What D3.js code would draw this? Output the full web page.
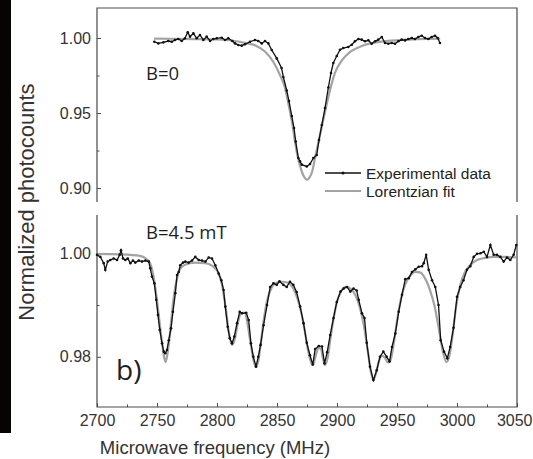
<!DOCTYPE html>
<html>
<head>
<meta charset="utf-8">
<script src="https://cdn.jsdelivr.net/npm/d3@7"></script>
<style>
  html, body { margin: 0; padding: 0; background: #fff; }
  svg { display: block; }
</style>
</head>
<body>
<svg id="chart" width="533" height="459"></svg>
<script>
// ODMR spectra: zero field (top) and B = 4.5 mT (bottom)

const xTicks = [2700, 2750, 2800, 2850, 2900, 2950, 3000, 3050];
const xMinorTicks = [2725, 2775, 2825, 2875, 2925, 2975, 3025];
const topTicks = [0.90, 0.95, 1.00];
const topMinorTicks = [0.925, 0.975];
const bottomTicks = [0.98, 1.00];
const bottomMinorTicks = [0.99];

// B = 0 : measured photocounts
const b0Freq = [
  2747.8, 2751.1, 2755.3, 2759.4, 2762.3, 2765.0, 2767.8, 2770.6, 2773.3, 2775.6,
  2777.5, 2780.3, 2783.1, 2785.8, 2788.6, 2791.4, 2794.2, 2796.9, 2799.8, 2803.9,
  2806.7, 2809.4, 2812.8, 2815.0, 2817.8, 2820.6, 2823.3, 2827.5, 2831.7, 2834.4,
  2837.3, 2840.0, 2842.8, 2845.6, 2849.8, 2853.8, 2855.3, 2858.1, 2860.0, 2862.3,
  2864.2, 2865.6, 2867.8, 2869.2, 2870.6, 2874.8, 2877.5, 2880.3, 2883.1, 2885.0,
  2887.3, 2890.0, 2892.8, 2895.0, 2896.9, 2899.8, 2902.5, 2905.3, 2909.4, 2912.3,
  2915.0, 2917.8, 2920.6, 2923.3, 2926.1, 2928.9, 2931.7, 2934.4, 2937.3, 2940.0,
  2942.8, 2945.6, 2948.3, 2951.1, 2953.9, 2956.7, 2959.4, 2962.3, 2965.0, 2967.8,
  2970.6, 2973.3, 2976.1, 2978.9, 2981.7, 2983.9, 2985.8
];
const b0Counts = [
  0.9975, 0.9964, 0.9971, 0.9980, 0.9975, 0.9987, 0.9993, 0.9980, 0.9998, 1.0038,
  1.0009, 1.0031, 0.9998, 1.0020, 0.9987, 1.0009, 0.9980, 0.9993, 0.9998, 1.0002,
  0.9987, 0.9998, 0.9980, 0.9964, 0.9953, 0.9949, 0.9958, 0.9975, 0.9987, 0.9980,
  0.9964, 0.9980, 0.9964, 0.9920, 0.9864, 0.9800, 0.9740, 0.9650, 0.9580, 0.9480,
  0.9400, 0.9310, 0.9200, 0.9178, 0.9156, 0.9144, 0.9160, 0.9200, 0.9220, 0.9320,
  0.9420, 0.9533, 0.9670, 0.9767, 0.9833, 0.9880, 0.9922, 0.9933, 0.9940, 0.9955,
  0.9978, 0.9993, 0.9989, 0.9978, 0.9985, 0.9962, 0.9978, 0.9989, 1.0007, 0.9967,
  0.9962, 0.9967, 0.9962, 0.9978, 0.9989, 0.9984, 0.9993, 1.0000, 0.9993, 1.0007,
  1.0015, 1.0000, 0.9993, 1.0007, 1.0015, 1.0000, 0.9967
];

// B = 0 : Lorentzian fit
const b0FitFreq = [
  2747.5, 2760, 2780, 2800, 2815, 2823, 2832, 2840, 2847, 2852.5,
  2856.7, 2859.2, 2862.5, 2865, 2867.5, 2870.8, 2873, 2875, 2877, 2879.2,
  2881.7, 2885.8, 2890, 2894.2, 2898.3, 2904.2, 2910.8, 2920.8, 2934.2, 2954.2,
  2986
];
const b0Fit = [
  0.9996, 0.9995, 0.9993, 0.9990, 0.9980, 0.9968, 0.9950, 0.9910, 0.9840, 0.9753,
  0.9667, 0.9573, 0.9440, 0.9307, 0.9200, 0.9107, 0.9070, 0.9055, 0.9070, 0.9107,
  0.9200, 0.9353, 0.9507, 0.9653, 0.9767, 0.9853, 0.9907, 0.9947, 0.9973, 0.9987,
  0.9996
];

// B = 4.5 mT : measured photocounts
const b45Freq = [
  2700.0, 2702.8, 2705.6, 2706.9, 2708.9, 2711.1, 2713.9, 2716.7, 2718.9, 2720.0,
  2721.7, 2723.6, 2725.6, 2727.8, 2730.0, 2731.9, 2734.8, 2737.5, 2740.3, 2743.1,
  2744.4, 2745.8, 2747.8, 2749.4, 2750.8, 2752.3, 2754.2, 2755.6, 2756.9, 2758.3,
  2759.8, 2761.7, 2763.3, 2765.3, 2766.7, 2768.1, 2769.4, 2771.7, 2773.6, 2776.4,
  2779.2, 2781.9, 2784.8, 2787.5, 2790.3, 2793.1, 2795.8, 2798.6, 2801.4, 2803.6,
  2805.5, 2806.9, 2808.9, 2810.6, 2812.5, 2814.4, 2816.7, 2818.9, 2820.8, 2824.4,
  2826.4, 2828.3, 2830.3, 2832.5, 2834.4, 2836.3, 2838.8, 2841.7, 2844.3, 2847.0,
  2849.8, 2852.1, 2855.3, 2858.1, 2860.8, 2863.6, 2866.4, 2869.3, 2872.1, 2874.8,
  2877.5, 2879.8, 2881.8, 2884.8, 2887.5, 2889.6, 2891.8, 2894.3, 2897.1, 2899.8,
  2902.9, 2905.6, 2908.3, 2911.1, 2913.8, 2916.4, 2918.1, 2920.8, 2922.9, 2924.8,
  2927.5, 2930.3, 2933.1, 2935.8, 2938.6, 2941.4, 2943.8, 2945.8, 2948.6, 2951.4,
  2954.2, 2956.9, 2959.8, 2962.5, 2965.3, 2968.1, 2970.8, 2972.3, 2974.3, 2976.4,
  2979.2, 2981.9, 2984.6, 2986.4, 2989.2, 2991.9, 2994.3, 2997.1, 3000.0, 3002.7,
  3005.4, 3008.3, 3011.1, 3013.9, 3016.7, 3019.6, 3022.3, 3025.0, 3027.8, 3030.6,
  3033.3, 3036.1, 3038.9, 3041.7, 3044.4, 3047.2, 3049.4
];
const b45Counts = [
  0.9997, 0.9993, 0.9981, 0.9968, 0.9984, 0.9987, 0.9990, 0.9987, 0.9997, 1.0006,
  0.9990, 0.9987, 0.9990, 0.9981, 0.9986, 0.9982, 0.9986, 0.9984, 0.9986, 0.9984,
  0.9971, 0.9955, 0.9942, 0.9910, 0.9881, 0.9852, 0.9826, 0.9810, 0.9807, 0.9813,
  0.9832, 0.9855, 0.9887, 0.9923, 0.9958, 0.9964, 0.9977, 0.9982, 0.9984, 0.9982,
  0.9986, 0.9993, 0.9987, 0.9986, 0.9984, 0.9992, 0.9990, 0.9977, 0.9961, 0.9948,
  0.9929, 0.9897, 0.9858, 0.9836, 0.9826, 0.9839, 0.9865, 0.9887, 0.9884, 0.9885,
  0.9871, 0.9826, 0.9800, 0.9781, 0.9800, 0.9823, 0.9861, 0.9900, 0.9935, 0.9942,
  0.9939, 0.9946, 0.9939, 0.9935, 0.9945, 0.9939, 0.9925, 0.9897, 0.9865, 0.9827,
  0.9803, 0.9785, 0.9815, 0.9821, 0.9820, 0.9787, 0.9809, 0.9842, 0.9875, 0.9906,
  0.9926, 0.9932, 0.9935, 0.9926, 0.9932, 0.9928, 0.9910, 0.9884, 0.9875, 0.9827,
  0.9781, 0.9755, 0.9774, 0.9800, 0.9810, 0.9800, 0.9791, 0.9819, 0.9845, 0.9887,
  0.9920, 0.9950, 0.9952, 0.9964, 0.9969, 0.9974, 0.9975, 0.9981, 0.9997, 0.9968,
  0.9948, 0.9935, 0.9900, 0.9832, 0.9810, 0.9797, 0.9819, 0.9856, 0.9916, 0.9935,
  0.9948, 0.9968, 0.9975, 0.9993, 0.9999, 1.0000, 1.0003, 0.9993, 1.0016, 0.9997,
  0.9997, 0.9993, 0.9984, 0.9992, 0.9987, 0.9997, 1.0016
];

// B = 4.5 mT : Lorentzian fit (eight resonances)
const b45FitFreq = [
  2700, 2719.2, 2735.8, 2740, 2744.2, 2746.7, 2749.2, 2751.7, 2754.2, 2755.8,
  2757.1, 2758.3, 2760, 2762.1, 2764.2, 2766.7, 2769.2, 2773.3, 2781.7, 2790,
  2795.8, 2800.8, 2804.2, 2807.5, 2810, 2812.5, 2815, 2817.5, 2820.4, 2823.3,
  2825.8, 2828.3, 2830.8, 2832.5, 2834.6, 2836.7, 2839.2, 2841.7, 2845, 2849.2,
  2854.2, 2859.2, 2863.3, 2866.7, 2870, 2873.3, 2875.8, 2878.3, 2880, 2882.1,
  2884.6, 2886.7, 2888.3, 2890, 2892.1, 2894.6, 2897.1, 2900, 2903.3, 2907.5,
  2911.7, 2915.8, 2919.2, 2922.5, 2925.8, 2928.3, 2930.4, 2932.5, 2935, 2937.5,
  2940, 2942.5, 2944.6, 2947.1, 2950, 2953.3, 2956.7, 2960.8, 2965, 2969.2,
  2973.3, 2977.5, 2981.3, 2985, 2988.3, 2991.3, 2993.8, 2996.3, 2999.2, 3002.5,
  3006.7, 3010.8, 3016.7, 3023.3, 3031.7, 3040, 3049.2
];
const b45Fit = [
  0.9999, 0.9998, 0.9995, 0.9991, 0.9981, 0.9960, 0.9923, 0.9875, 0.9827, 0.9801,
  0.9790, 0.9800, 0.9828, 0.9875, 0.9920, 0.9952, 0.9970, 0.9978, 0.9982, 0.9981,
  0.9976, 0.9964, 0.9939, 0.9890, 0.9846, 0.9823, 0.9836, 0.9867, 0.9885, 0.9885,
  0.9859, 0.9821, 0.9790, 0.9780, 0.9794, 0.9830, 0.9875, 0.9908, 0.9931, 0.9943,
  0.9945, 0.9943, 0.9933, 0.9915, 0.9888, 0.9848, 0.9813, 0.9790, 0.9784, 0.9801,
  0.9817, 0.9815, 0.9797, 0.9784, 0.9797, 0.9836, 0.9873, 0.9906, 0.9926, 0.9935,
  0.9931, 0.9917, 0.9894, 0.9859, 0.9809, 0.9770, 0.9755, 0.9768, 0.9792, 0.9802,
  0.9798, 0.9789, 0.9794, 0.9823, 0.9869, 0.9912, 0.9939, 0.9956, 0.9964, 0.9963,
  0.9952, 0.9929, 0.9898, 0.9852, 0.9809, 0.9790, 0.9803, 0.9842, 0.9896, 0.9937,
  0.9964, 0.9977, 0.9987, 0.9991, 0.9993, 0.9993, 0.9992
];

const svg = d3.select("#chart");
const AXIS = "#4a4a4a";
const TICKFONT = "'Liberation Sans', Arial, sans-serif";
const ANNOTFONT = "'Open Sans', 'Noto Sans', sans-serif";
const FIT = "#a3a3a3";

// dark strip along the left border
svg.append("rect").attr("x", 0).attr("y", 0).attr("width", 11).attr("height", 433).attr("fill", "#070303");

const x = d3.scaleLinear().domain([2700, 3050]).range([97, 517]);
const yTop = d3.scaleLinear().domain([0.8907, 1.02]).range([202, 8]);
const yBot = d3.scaleLinear().domain([0.9703, 1.0074]).range([407, 215]);

function styleAxis(g) {
  g.select(".domain").remove();
  g.selectAll(".tick line").attr("stroke", AXIS).attr("stroke-width", 1);
  g.selectAll(".tick text").attr("fill", "#333").style("font-family", TICKFONT).style("font-size", "16px");
}

function yAxes(scale, major, minor, fmt) {
  svg.append("g").attr("transform", "translate(97,0)")
    .call(d3.axisLeft(scale).tickValues(major).tickSize(-4).tickPadding(6).tickFormat(d3.format(fmt)))
    .call(styleAxis);
  svg.append("g").attr("transform", "translate(97,0)")
    .call(d3.axisLeft(scale).tickValues(minor).tickSize(-2.5).tickFormat(""))
    .call(styleAxis);
}

yAxes(yTop, topTicks, topMinorTicks, ".2f");
yAxes(yBot, bottomTicks, bottomMinorTicks, ".2f");

const xAxisG = svg.append("g").attr("transform", "translate(0,407)")
  .call(d3.axisBottom(x).tickValues(xTicks).tickSize(-4).tickPadding(8).tickFormat(d3.format("d")))
  .call(styleAxis);
// keep the last label inside the page edge
xAxisG.selectAll(".tick text").filter(d => d === xTicks[xTicks.length - 1])
  .attr("text-anchor", "end").attr("x", 15);
svg.append("g").attr("transform", "translate(0,407)")
  .call(d3.axisBottom(x).tickValues(xMinorTicks).tickSize(-2.5).tickFormat(""))
  .call(styleAxis);

// panel frames: top panel open at the bottom, bottom panel open at the top
const frame = svg.append("g").attr("fill", "none").attr("stroke", AXIS).attr("stroke-width", 1.2);
frame.append("path").attr("d", `M${x(2700)},${yTop.range()[0]}V${yTop.range()[1]}H${x(3050)}V${yTop.range()[0]}`);
frame.append("path").attr("d", `M${x(2700)},${yBot.range()[1]}V${yBot.range()[0]}H${x(3050)}V${yBot.range()[1]}`);

function drawPanel(yScale, fitF, fitV, dataF, dataV) {
  const fitLine = d3.line().x((d, i) => x(fitF[i])).y((d, i) => yScale(fitV[i])).curve(d3.curveMonotoneX);
  svg.append("path").datum(fitV).attr("d", fitLine)
    .attr("fill", "none").attr("stroke", FIT).attr("stroke-width", 2.2);
  const dataLine = d3.line().x((d, i) => x(dataF[i])).y((d, i) => yScale(dataV[i]));
  svg.append("path").datum(dataV).attr("d", dataLine)
    .attr("fill", "none").attr("stroke", "#111").attr("stroke-width", 1.3);
  svg.append("g").selectAll("circle").data(dataV).join("circle")
    .attr("cx", (d, i) => x(dataF[i])).attr("cy", d => yScale(d)).attr("r", 1.3).attr("fill", "#111");
}

drawPanel(yTop, b0FitFreq, b0Fit, b0Freq, b0Counts);
drawPanel(yBot, b45FitFreq, b45Fit, b45Freq, b45Counts);

// legend
const lg = svg.append("g");
lg.append("line").attr("x1", 325).attr("x2", 361).attr("y1", 173).attr("y2", 173).attr("stroke", "#111").attr("stroke-width", 1.3);
lg.append("circle").attr("cx", 343).attr("cy", 173).attr("r", 1.5).attr("fill", "#111");
lg.append("line").attr("x1", 325).attr("x2", 361).attr("y1", 191).attr("y2", 191).attr("stroke", FIT).attr("stroke-width", 2);
lg.append("text").attr("x", 366).attr("y", 178.5).text("Experimental data")
  .style("font-family", TICKFONT).style("font-size", "15.5px").attr("fill", "#222");
lg.append("text").attr("x", 366).attr("y", 197).text("Lorentzian fit")
  .style("font-family", TICKFONT).style("font-size", "15.5px").attr("fill", "#222");

// field annotations
svg.append("text").attr("x", 146).attr("y", 80).text("B=0")
  .style("font-family", ANNOTFONT).style("font-size", "18.5px").attr("fill", "#1e1e1e");
svg.append("text").attr("x", 146).attr("y", 239).text("B=4.5 mT")
  .style("font-family", ANNOTFONT).style("font-size", "18.5px").attr("fill", "#1e1e1e");
svg.append("text").attr("x", 116).attr("y", 380).text("b)")
  .style("font-family", ANNOTFONT).style("font-size", "28px").attr("fill", "#1e1e1e");

// axis titles
svg.append("text").attr("x", 215).attr("y", 454).attr("text-anchor", "middle")
  .text("Microwave frequency (MHz)")
  .style("font-family", TICKFONT).style("font-size", "18.5px").attr("fill", "#333");
svg.append("text").attr("transform", "translate(33.5,202) rotate(-90)").attr("text-anchor", "middle")
  .text("Normalized photocounts")
  .style("font-family", TICKFONT).style("font-size", "22px").attr("fill", "#333");
</script>
</body>
</html>
